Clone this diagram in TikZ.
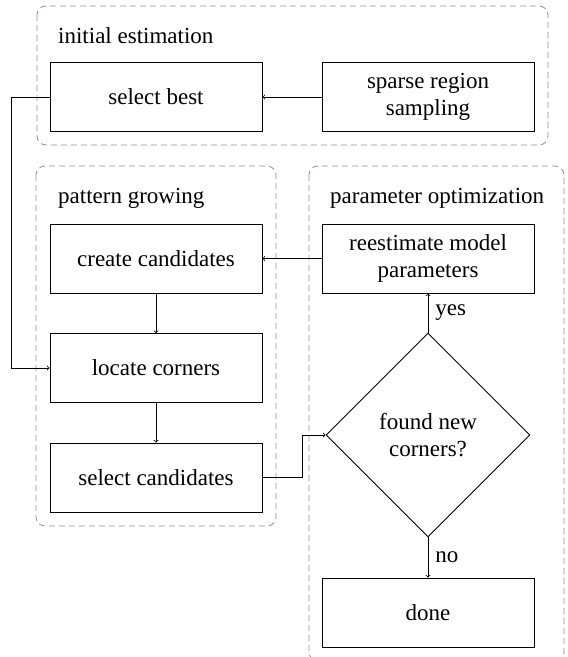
\documentclass[tikz,border=0pt]{standalone}
\usepackage{fontspec}
\setmainfont{Liberation Serif}
\newfontfamily\tnr{Liberation Serif}
\usetikzlibrary{shapes.geometric}
\definecolor{grp}{RGB}{145,145,145}
\tikzset{
  x=1pt, y=-1pt,
  every node/.style={font=\tnr\fontsize{23}{27.5}\selectfont},
  stepbox/.style={draw, line width=0.9pt, minimum width=212pt, minimum height=69pt, inner sep=0pt, align=center},
  decbox/.style={draw, line width=0.9pt, shape=diamond, aspect=1, minimum width=204pt, minimum height=204pt, inner sep=0pt, align=center},
  grpbox/.style={draw=grp, dash pattern=on 6pt off 4pt, line width=0.8pt, rounded corners=9pt},
  grplabel/.style={anchor=base west, inner sep=0pt},
  conn/.style={->, line width=0.8pt},
  lbl/.style={anchor=west, inner sep=0pt}
}
\begin{document}
\begin{tikzpicture}
\useasboundingbox (0,0) rectangle (568,657);
% group frames
\draw[grpbox] (37,6) rectangle (548,145);
\draw[grpbox] (36,166) rectangle (276,526);
\begin{scope}
\clip (0,0) rectangle (568,657);
\draw[grpbox] (309,166) rectangle (564,661);
\end{scope}
\node[grplabel] (ttlinit) at (58,43) {initial estimation};
\node[grplabel] (ttlpat) at (58,203) {pattern growing};
\node[grplabel] (ttlpar) at (330,203) {parameter optimization};
% nodes
\node[stepbox] (best) at (156,97) {select best};
\node[stepbox] (sparse) at (428,97) {sparse region\\sampling};
\node[stepbox] (create) at (156,258.5) {create candidates};
\node[stepbox] (locate) at (156,368) {locate corners};
\node[stepbox] (selcand) at (156,477.5) {select candidates};
\node[stepbox] (reest) at (428,258.5) {reestimate model\\parameters};
\node[decbox] (found) at (428,435) {found new\\corners?};
\node[stepbox] (done) at (428,612.5) {done};
% connectors
\coordinate (l1) at (11,97);
\coordinate (l2) at (11,368);
\coordinate (m1) at (302,477.5);
\coordinate (m2) at (302,435);
\draw[conn] (sparse.west) -- (best.east);
\draw[conn] (best.west) -- (l1) -- (l2) -- (locate.west);
\draw[conn] (create.south) -- (locate.north);
\draw[conn] (locate.south) -- (selcand.north);
\draw[conn] (selcand.east) -- (m1) -- (m2) -- (found.west);
\draw[conn] (reest.west) -- (create.east);
\draw[conn] (found.north) -- node[lbl, xshift=7pt] (yes) {yes} (reest.south);
\draw[conn] (found.south) -- node[lbl, xshift=7pt] (no) {no} (done.north);
\end{tikzpicture}
\end{document}
